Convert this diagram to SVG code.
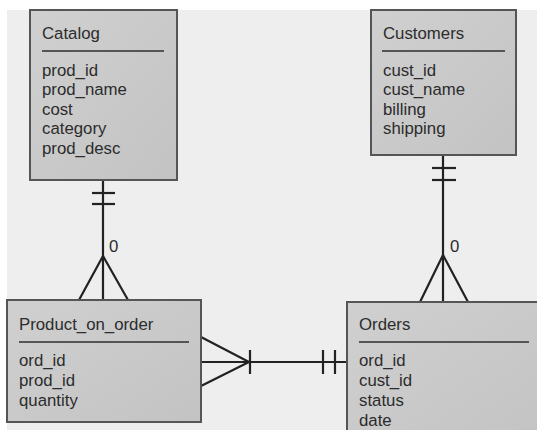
<svg xmlns="http://www.w3.org/2000/svg" width="537" height="430" viewBox="0 0 537 430">
  <defs>
    <linearGradient id="boxFill" x1="0" y1="0" x2="1" y2="1">
      <stop offset="0" stop-color="#d0d0d0"/>
      <stop offset="1" stop-color="#c3c3c3"/>
    </linearGradient>
    <style>
      .box { fill: url(#boxFill); stroke: #555; stroke-width: 2; }
      .rule { stroke: #555; stroke-width: 2; }
      .txt { font-family: "Liberation Sans", Arial, sans-serif; font-size: 16.8px; fill: #2c2c2c; }
      .edge { stroke: #222; stroke-width: 2.2; fill: none; }
    </style>
  </defs>

  <!-- canvas -->
  <rect x="0" y="0" width="537" height="430" fill="#ffffff"/>
  <rect x="7" y="10" width="530" height="420" fill="#eeeeee"/>

  <!-- relationships -->
  <g id="connectors">
    <!-- Catalog to Product_on_order -->
    <line class="edge" x1="103" y1="180" x2="103" y2="300"/>
    <line class="edge" x1="92" y1="193" x2="115" y2="193"/>
    <line class="edge" x1="92" y1="204" x2="115" y2="204"/>
    <polyline class="edge" points="79,300 103,256 128,300"/>
    <text class="txt" x="109" y="252" font-size="14">0</text>

    <!-- Customers to Orders -->
    <line class="edge" x1="443" y1="155" x2="443" y2="302"/>
    <line class="edge" x1="432" y1="168" x2="456" y2="168"/>
    <line class="edge" x1="432" y1="180" x2="456" y2="180"/>
    <polyline class="edge" points="420,302 443,255 468,302"/>
    <text class="txt" x="450" y="252" font-size="14">0</text>

    <!-- Product_on_order to Orders -->
    <line class="edge" x1="201" y1="362" x2="347" y2="362"/>
    <polyline class="edge" points="201,337 249,362 201,386"/>
    <line class="edge" x1="250" y1="350" x2="250" y2="374"/>
    <line class="edge" x1="323" y1="350" x2="323" y2="374"/>
    <line class="edge" x1="335" y1="350" x2="335" y2="374"/>
  </g>

  <g id="catalog">
    <rect class="box" x="30" y="10" width="147" height="170"/>
    <text class="txt" x="42" y="39">Catalog</text>
    <line class="rule" x1="42" y1="51" x2="164" y2="51"/>
    <text class="txt" x="42" y="76">prod_id</text>
    <text class="txt" x="42" y="95">prod_name</text>
    <text class="txt" x="42" y="115">cost</text>
    <text class="txt" x="42" y="134">category</text>
    <text class="txt" x="42" y="154">prod_desc</text>
  </g>

  <g id="customers">
    <rect class="box" x="371" y="10" width="145" height="145"/>
    <text class="txt" x="383" y="39">Customers</text>
    <line class="rule" x1="382" y1="51" x2="505" y2="51"/>
    <text class="txt" x="383" y="76">cust_id</text>
    <text class="txt" x="383" y="95">cust_name</text>
    <text class="txt" x="383" y="115">billing</text>
    <text class="txt" x="383" y="134">shipping</text>
  </g>

  <g id="product_on_order">
    <rect class="box" x="7" y="300" width="194" height="122"/>
    <text class="txt" x="19" y="330">Product_on_order</text>
    <line class="rule" x1="19" y1="342" x2="189" y2="342"/>
    <text class="txt" x="19" y="366">ord_id</text>
    <text class="txt" x="19" y="386">prod_id</text>
    <text class="txt" x="19" y="406">quantity</text>
  </g>

  <g id="orders">
    <rect class="box" x="347" y="302" width="200" height="140"/>
    <text class="txt" x="359" y="330">Orders</text>
    <line class="rule" x1="359" y1="342" x2="529" y2="342"/>
    <text class="txt" x="359" y="366">ord_id</text>
    <text class="txt" x="359" y="386">cust_id</text>
    <text class="txt" x="359" y="406">status</text>
    <text class="txt" x="359" y="426">date</text>
  </g>
</svg>
